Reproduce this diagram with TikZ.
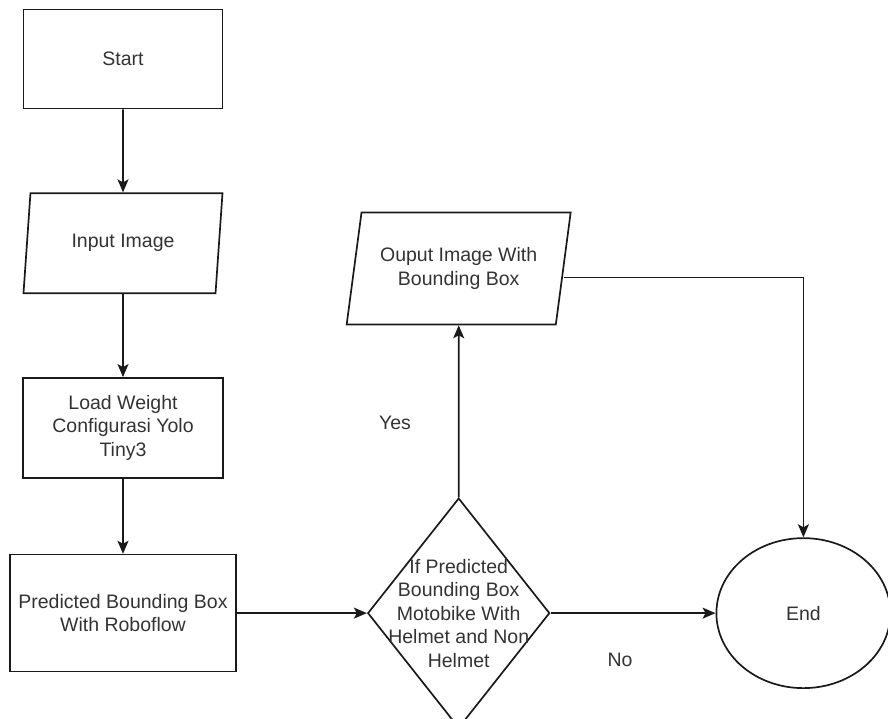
\documentclass[tikz,border=0pt]{standalone}
\usepackage{fontspec}
\setmainfont{Liberation Sans}
\usetikzlibrary{positioning,shapes.geometric,arrows.meta}
\definecolor{txt}{HTML}{333333}
\definecolor{ln}{HTML}{1A1A1A}

\begin{document}
\begin{tikzpicture}[x=1pt, y=-1pt, line width=1.7pt, color=ln,
    lbl/.style = {text=txt, align=center, font=\fontsize{19.5}{23.5}\selectfont},
    box/.style = {lbl, draw=ln, rectangle, inner sep=2pt},
    io/.style = {box, trapezium, trapezium left angle=72, trapezium right angle=108, trapezium stretches body},
    dec/.style = {draw=ln, diamond, inner sep=0pt, minimum width=182pt, minimum height=230pt},
    term/.style = {box, ellipse, minimum width=174pt, minimum height=150pt},
    >={Stealth[length=13pt, width=11pt, inset=3pt]}]
    \useasboundingbox (0,0) rectangle (888,718);

    % start
    \node[box, minimum width=199pt, minimum height=99pt] (1) at (123,59) {Start};
    \node[io, minimum width=199pt, minimum height=100pt] (2) [below=83pt of 1] {Input Image};
    \node[box, minimum width=200pt, minimum height=100pt] (3) [below=83pt of 2] {Load Weight\\Configurasi Yolo\\Tiny3};
    \node[box, minimum width=226pt, minimum height=117pt] (4) [below=75pt of 3] {Predicted Bounding Box\\With Roboflow};
    \draw[->] (1) -- (2);
    \draw[->] (2) -- (3);
    \draw[->] (3) -- (4);

    % if
    \node[dec, label={[lbl]center:{If Predicted\\Bounding Box\\Motobike With\\Helmet and Non\\Helmet}}] (5) [right=130pt of 4] {};
    \draw[->] (4) -- (5);

    % yes
    \node[io, minimum width=224pt, minimum height=112pt] (6) [above=172pt of 5] {Ouput Image With\\Bounding Box};
    \draw[->] (5) -- (6);
    \node[lbl] (yes) at (395,423) {Yes};

    % end
    \node[term] (7) [right=165pt of 5] {End};
    \draw[->] (5) -- (7);
    \node[lbl] (no) at (620,660) {No};
    \draw[->] ([yshift=-9pt]6.east) -| (7.north);
\end{tikzpicture}
\end{document}
